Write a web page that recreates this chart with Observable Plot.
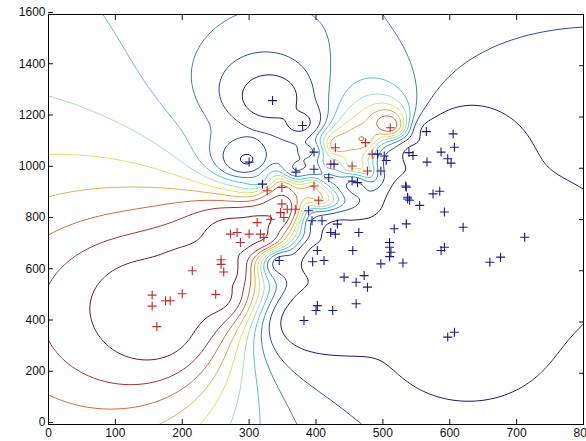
<!DOCTYPE html>
<html><head><meta charset="utf-8">
<script src="https://cdn.jsdelivr.net/npm/d3@7"></script>
<script src="https://cdn.jsdelivr.net/npm/@observablehq/plot@0.6"></script>
<style>body{margin:0;background:#fff;font-family:Arial, "Liberation Sans", sans-serif}</style>
</head><body><div id="c"></div>
<script>
// class 1 (red +) and class 2 (blue +) samples
const redX = [155,155,162,175,182,200,215,250,258,258,262,272,282,287,300,312,317,322,332,347,349,352,357,369,327,349,397,404,422,429,454,474,477,484,511];
const redY = [505,462,382,483,483,510,600,508,643,625,595,743,749,710,743,788,743,730,801,827,861,808,840,840,912,925,931,873,1016,1080,1009,1100,989,1055,1158];
const blueX = [300,335,380,320,370,397,397,419,427,389,394,409,432,422,429,464,345,454,462,492,502,497,505,539,545,534,565,605,607,587,597,602,566,537,537,540,535,555,575,585,592,620,402,455,395,412,510,510,512,510,497,530,517,535,442,460,472,477,402,400,425,460,382,587,592,597,607,660,676,712];
const blueY = [1024,1264,1167,938,985,996,1063,963,1016,834,795,795,782,749,743,749,640,950,944,1055,1048,989,1030,1061,1050,931,1143,1134,1082,1063,1037,1020,1024,887,880,875,926,855,900,910,829,770,679,679,635,640,710,692,672,655,627,630,764,783,575,555,581,536,464,445,445,471,406,679,692,341,360,633,653,731];
const xTicks = [0,100,200,300,400,500,600,700,800];
const yTicks = [0,200,400,600,800,1000,1200,1400,1600];
const levels = [-0.9,-0.7,-0.5,-0.3,-0.1,0.1,0.3,0.5,0.7,0.9];
const levelColors = ["#1b1b70","#2a4a98","#3a88b0","#58c4d8","#a8e0b0","#e2e070","#e4b050","#d06a3a","#a83030","#701828"];

const red = redX.map((x,i)=>({x, y: redY[i], c: 1, w: 0.8}));
const blue = blueX.map((x,i)=>({x, y: blueY[i], c: -1, w: 1}));
const samples = red.concat(blue);
// distance-weighted class score of the samples
function score(x, y){
  let n = 0, d = 0;
  for (const s of samples){
    const q = (x - s.x) ** 2 + ((y - s.y) / 2) ** 2 + 625;
    const w = s.w / (q * q);
    n += s.c * w; d += w;
  }
  return n / d;
}
const plus = {draw(ctx, size){const r = Math.sqrt(size / Math.PI); ctx.moveTo(-r,0); ctx.lineTo(r,0); ctx.moveTo(0,-r); ctx.lineTo(0,r);}};

const chart = Plot.plot({
  width: 586, height: 441,
  marginLeft: 48, marginRight: 3, marginTop: 14, marginBottom: 17,
  style: {fontFamily: "Arial, 'Liberation Sans', sans-serif", fontSize: "12px", color: "#111", background: "#fff"},
  x: {domain: [0, 800], label: null},
  y: {domain: [0, 1600], label: null},
  color: {type: "ordinal", domain: levels, range: levelColors},
  marks: [
    Plot.contour({x1: 0, x2: 800, y1: 0, y2: 1600, stroke: score, thresholds: levels, strokeWidth: 1, pixelSize: 1}),
    Plot.dot(red, {x: "x", y: "y", symbol: plus, r: 4.5, stroke: "#c62a2e", fill: "none", strokeWidth: 1.1}),
    Plot.dot(blue, {x: "x", y: "y", symbol: plus, r: 4.5, stroke: "#1c1c8a", fill: "none", strokeWidth: 1.1}),
    Plot.axisX({ticks: xTicks, tickSize: -5, tickPadding: 9, fontSize: 12, tickFormat: d => String(d), label: null}),
    Plot.axisX({ticks: xTicks, anchor: "top", tickSize: -5, tickFormat: () => "", label: null}),
    Plot.axisY({ticks: yTicks, tickSize: -5, tickPadding: 8, fontSize: 12, dy: -2, tickFormat: d => String(d), label: null}),
    Plot.axisY({ticks: yTicks, anchor: "right", tickSize: -5, tickFormat: () => "", label: null}),
    Plot.frame({stroke: "#000", strokeWidth: 1})
  ]
});
document.getElementById("c").appendChild(chart);
</script></body></html>
